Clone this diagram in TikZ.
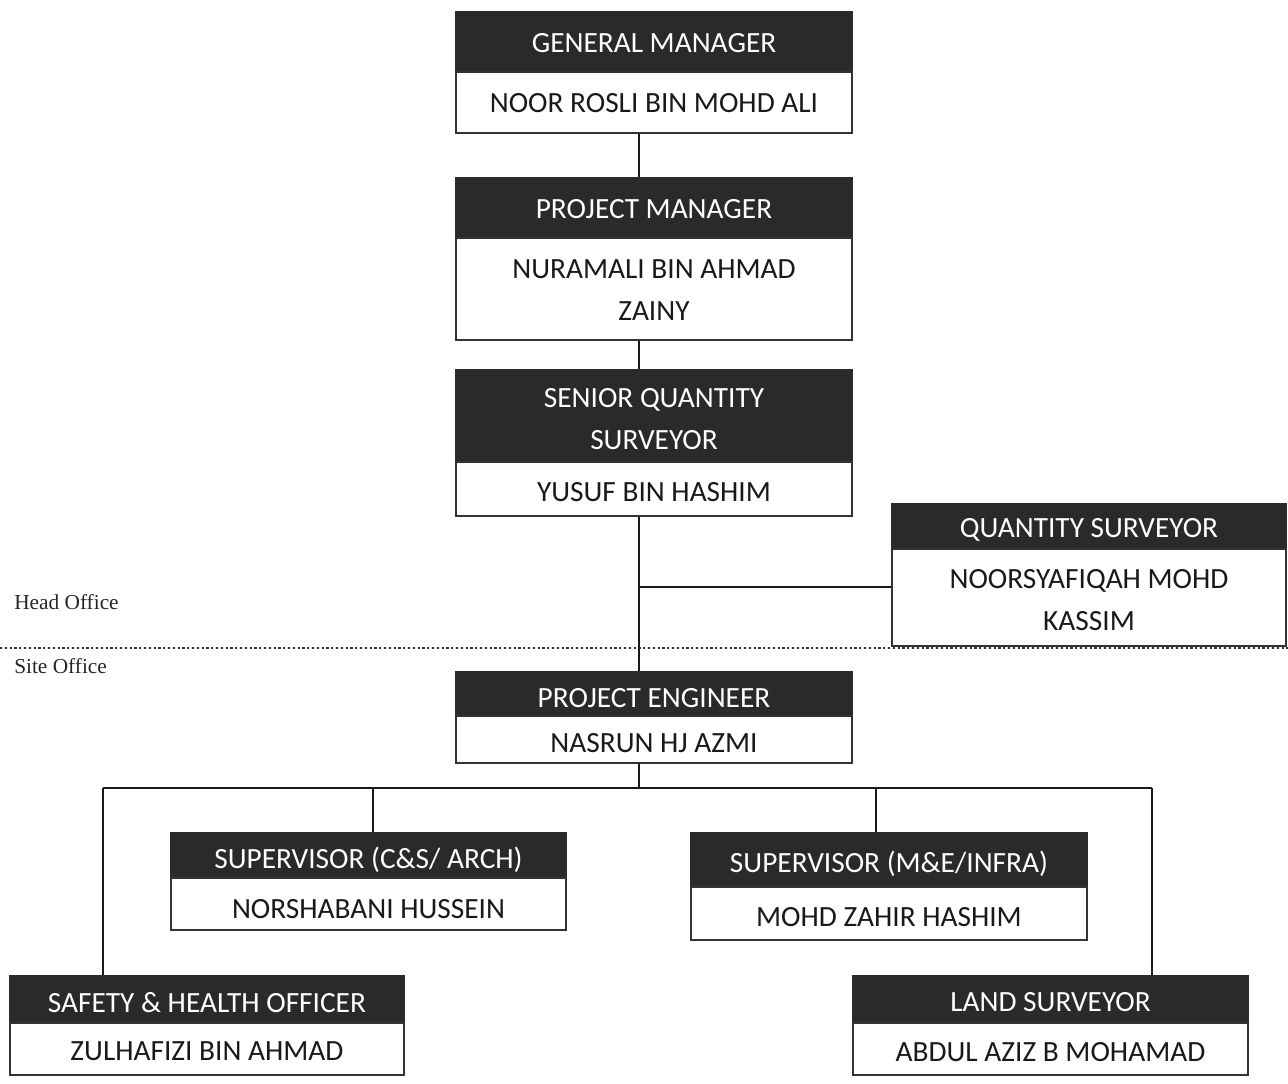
\documentclass[tikz,border=0pt]{standalone}
\usepackage{fontspec}
\setmainfont{Carlito}
\newfontfamily\labelserif{Liberation Serif}
\definecolor{darkfill}{HTML}{2A2A2A}
\definecolor{edge}{HTML}{333333}
\tikzset{
  darkbox/.style={fill=darkfill, draw=darkfill, line width=0.8pt, inner sep=0pt},
  namebox/.style={fill=white, draw=edge, line width=1.1pt, inner sep=0pt},
  titletext/.style={inner sep=0pt, text=white, align=center, font=\fontsize{22}{31.5}\selectfont},
  nametext/.style={inner sep=0pt, text=black!90, align=center, font=\fontsize{22}{31.5}\selectfont},
  conn/.style={draw=black!90, line width=1.1pt},
  officelabel/.style={anchor=west, inner sep=0pt, font=\labelserif\fontsize{16}{18}\selectfont, text=black!85}
}
% #1 name, #2 x1, #3 x2, #4 ytop, #5 ymid, #6 ybot, #7 title, #8 person, #9 text shift (pt)
\newcommand\orgbox[9]{%
  \node[darkbox, minimum width={(#3-#2)*0.75pt}, minimum height={(#5-#4)*0.75pt}] (#1t) at ({(#2+#3)/2},{(#4+#5)/2}) {};
  \node[namebox, minimum width={(#3-#2)*0.75pt}, minimum height={(#6-#5)*0.75pt}] (#1n) at ({(#2+#3)/2},{(#5+#6)/2}) {};
  \node[titletext] (#1tl) at ([yshift=-#9pt]#1t.center) {#7};
  \node[nametext] (#1nl) at ([yshift=-#9pt]#1n.center) {#8};
}
\begin{document}
\begin{tikzpicture}[x=0.75pt, y=-0.75pt]
\useasboundingbox (0,0) rectangle (1288,1084);

\orgbox{gm}{456}{852}{12}{72}{133}{GENERAL MANAGER}{NOOR ROSLI BIN MOHD ALI}{0.5}
\orgbox{pm}{456}{852}{178}{238}{340}{PROJECT MANAGER}{NURAMALI BIN AHMAD\\ZAINY}{0.8}
\orgbox{sqs}{456}{852}{370}{462}{516}{SENIOR QUANTITY\\SURVEYOR}{YUSUF BIN HASHIM}{2.0}
\orgbox{qs}{892}{1286}{504}{549}{646}{QUANTITY SURVEYOR}{NOORSYAFIQAH MOHD\\KASSIM}{2.2}
\orgbox{pe}{456}{852}{672}{716}{763}{PROJECT ENGINEER}{NASRUN HJ AZMI}{2.8}
\orgbox{supa}{171}{566}{833}{878}{930}{SUPERVISOR (C\&S/ ARCH)}{NORSHABANI HUSSEIN}{3.5}
\orgbox{supb}{691}{1087}{833}{887}{940}{SUPERVISOR (M\&E/INFRA)}{MOHD ZAHIR HASHIM}{2.5}
\orgbox{sho}{10}{404}{976}{1023}{1075}{SAFETY \& HEALTH OFFICER}{ZULHAFIZI BIN AHMAD}{2.0}
\orgbox{ls}{853}{1248}{976}{1023}{1075}{LAND SURVEYOR}{ABDUL AZIZ B MOHAMAD}{2.0}

% office labels and divider
\node[officelabel] (head) at (14,602) {Head Office};
\node[officelabel] (site) at (14,666) {Site Office};
\coordinate (divL) at (0,648);
\coordinate (divR) at (1288,648);
\draw[line width=1.6pt, dash pattern=on 1.6pt off 2pt, draw=black!80] (divL) -- (divR);

% spine
\coordinate (spine) at (639,0);
\draw[conn] (gmn.south -| spine) -- (pmt.north -| spine);
\draw[conn] (pmn.south -| spine) -- (sqst.north -| spine);
\draw[conn] (sqsn.south -| spine) -- (pet.north -| spine);
\coordinate (qsj) at (639,587);
\draw[conn] (qsj) -- (qsj -| qsn.west);

% site bus
\coordinate (busL) at (103,788);
\coordinate (busR) at (1152,788);
\coordinate (dropA) at (373,788);
\coordinate (dropB) at (876,788);
\draw[conn] (pen.south -| spine) -- (spine |- busL);
\draw[conn] (busL) -- (busR);
\draw[conn] (busL) -- (busL |- shot.north);
\draw[conn] (busR) -- (busR |- lst.north);
\draw[conn] (dropA) -- (dropA |- supat.north);
\draw[conn] (dropB) -- (dropB |- supbt.north);
\end{tikzpicture}
\end{document}
